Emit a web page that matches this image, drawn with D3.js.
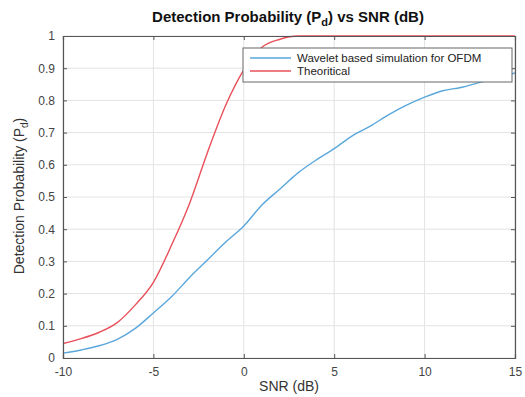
<!DOCTYPE html>
<html>
<head>
<meta charset="utf-8">
<script src="https://cdn.jsdelivr.net/npm/d3@7"></script>
<style>
  html, body { margin: 0; padding: 0; background: #fff; }
  svg { display: block; font-family: "Liberation Sans", Arial, sans-serif; }
</style>
</head>
<body>
<svg id="chart" width="525" height="397"></svg>
<script>
// ---- data ----
const snr = [-10,-9,-8,-7,-6,-5,-4,-3,-2,-1,0,1,2,3,4,5,6,7,8,9,10,11,12,13,14,15];
const waveletSim = [0.015,0.025,0.038,0.058,0.092,0.14,0.19,0.25,0.305,0.36,0.41,0.475,0.525,0.575,0.615,0.65,0.69,0.72,0.755,0.785,0.81,0.83,0.84,0.855,0.87,0.885];
const theoretical = [0.045,0.06,0.08,0.11,0.165,0.235,0.35,0.48,0.64,0.785,0.895,0.965,0.99,1,1,1,1,1,1,1,1,1,1,1,1,1];
const xTicks = [-10,-5,0,5,10,15];
const yTicks = [0,0.1,0.2,0.3,0.4,0.5,0.6,0.7,0.8,0.9,1];
const seriesNames = ["Wavelet based simulation for OFDM", "Theoritical"];
const seriesColors = ["#5aa7dc", "#e8505a"];

const svg = d3.select("#chart");
const m = {left: 63, right: 10, top: 36, bottom: 39};
const W = 525, H = 397;
const x = d3.scaleLinear().domain([-10, 15]).range([m.left, W - m.right]);
const y = d3.scaleLinear().domain([0, 1]).range([H - m.bottom, m.top]);

// grid
const g = svg.append("g");
g.selectAll(".gx").data(xTicks).enter().append("line")
  .attr("x1", d => x(d)).attr("x2", d => x(d))
  .attr("y1", y(0)).attr("y2", y(1))
  .attr("stroke", "#e3e3e3").attr("stroke-width", 1);
g.selectAll(".gy").data(yTicks).enter().append("line")
  .attr("x1", x(-10)).attr("x2", x(15))
  .attr("y1", d => y(d)).attr("y2", d => y(d))
  .attr("stroke", "#e3e3e3").attr("stroke-width", 1);

// lines
const line = d3.line().x((d, i) => x(snr[i])).y(d => y(d)).curve(d3.curveMonotoneX);
svg.append("path").datum(waveletSim).attr("d", line)
  .attr("fill", "none").attr("stroke", seriesColors[0]).attr("stroke-width", 1.4);
svg.append("path").datum(theoretical).attr("d", line)
  .attr("fill", "none").attr("stroke", seriesColors[1]).attr("stroke-width", 1.4);

// axes (MATLAB-style box with inward ticks)
const axColor = "#555";
const xAxis = d3.axisBottom(x).tickValues(xTicks).tickSize(-4).tickPadding(9).tickFormat(d => String(d));
const yAxis = d3.axisLeft(y).tickValues(yTicks).tickSize(-4).tickPadding(8).tickFormat(d => String(d));
const gx = svg.append("g").attr("transform", `translate(0,${y(0)})`).call(xAxis);
const gy = svg.append("g").attr("transform", `translate(${x(-10)},0)`).call(yAxis);
const gx2 = svg.append("g").attr("transform", `translate(0,${y(1)})`).call(d3.axisTop(x).tickValues(xTicks).tickSize(-4).tickFormat(""));
const gy2 = svg.append("g").attr("transform", `translate(${x(15)},0)`).call(d3.axisRight(y).tickValues(yTicks).tickSize(-4).tickFormat(""));
[gx, gy, gx2, gy2].forEach(a => {
  a.select(".domain").attr("stroke", axColor).attr("stroke-width", 1.2);
  a.selectAll(".tick line").attr("stroke", axColor);
  a.selectAll(".tick text").attr("fill", "#444").attr("font-size", 12)
    .attr("font-family", "Liberation Sans, Arial, sans-serif");
});

// title
const title = svg.append("text").attr("x", 288).attr("y", 22).attr("text-anchor", "middle")
  .attr("font-size", 15).attr("font-weight", "bold").attr("fill", "#111");
title.append("tspan").text("Detection Probability (P");
title.append("tspan").attr("dy", 4).attr("font-size", 11).text("d");
title.append("tspan").attr("dy", -4).text(") vs SNR (dB)");

// axis labels
svg.append("text").attr("x", 289).attr("y", 391).attr("text-anchor", "middle")
  .attr("font-size", 14).attr("fill", "#333").text("SNR (dB)");
const yl = svg.append("text").attr("transform", `translate(24,196) rotate(-90)`)
  .attr("text-anchor", "middle").attr("font-size", 14).attr("fill", "#333");
yl.append("tspan").text("Detection Probability (P");
yl.append("tspan").attr("dy", 4).attr("font-size", 10).text("d");
yl.append("tspan").attr("dy", -4).text(")");

// legend
const lg = svg.append("g");
lg.append("rect").attr("x", 243).attr("y", 48).attr("width", 269).attr("height", 34)
  .attr("fill", "#fff").attr("stroke", "#666").attr("stroke-width", 1);
seriesNames.forEach((n, i) => {
  const yy = 58 + i * 13;
  lg.append("line").attr("x1", 250).attr("x2", 291).attr("y1", yy).attr("y2", yy)
    .attr("stroke", seriesColors[i]).attr("stroke-width", 1.4);
  lg.append("text").attr("x", 297).attr("y", yy + 4).attr("font-size", 11.5)
    .attr("fill", "#222").text(n);
});
</script>
</body>
</html>
